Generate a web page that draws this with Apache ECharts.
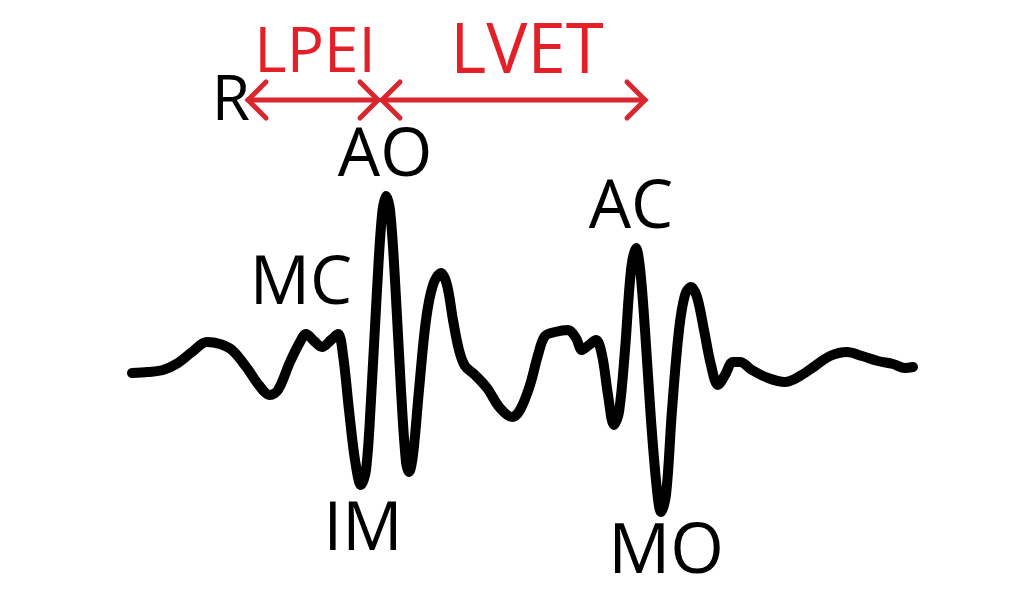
<!DOCTYPE html>
<html>
<head>
<meta charset="utf-8">
<style>html,body{margin:0;padding:0;background:#fff;}#c{width:1029px;height:605px;}</style>
<script src="https://cdn.jsdelivr.net/npm/echarts@6/dist/echarts.min.js"></script>
</head>
<body>
<div id="c"></div>
<script>
// time (arbitrary units) and amplitude of the traced waveform
const time = [132,148,163,178,192,207,220,232,247,258,270,278,290,300,306,314,322,331,338,343,349,355,361,366,371,377,382,386,390,395,401,406,409,413,419,426,433,441,447,453,459,465,475,487,500,512,520,530,538,545,555,568,576,582,589,596,602,608,614,619,625,631,636,640,645,651,657,661,666,672,679,685,691,697,704,711,718,725,733,740,752,768,785,800,815,830,847,862,878,893,905,913];
const amplitude = [-3,-2,0,7,18,28,26,20,2,-14,-25,-20,8,28,36,29,23,30,36,15,-40,-90,-115,-100,-30,80,155,174,160,90,-20,-92,-102,-85,-20,50,85,97,85,50,20,4,-5,-18,-38,-47,-40,-15,15,34,38,40,32,20,25,30,15,-25,-55,-42,20,100,122,102,40,-50,-120,-142,-125,-40,40,75,83,73,40,5,-15,-5,8,8,0,-8,-12,-6,4,14,18,14,9,6,2,3];

// black event labels: name, time, amplitude
const eventNames = ['R','MC','AO','IM','AC','MO'];
const eventTime  = [231,301,385,363,631,666];
const eventAmp   = [268,85,213,-161,161,-183];

// red interval labels and arrows
const intervalNames = ['LPEI','LVET'];
const intervalStart = [248,382];
const intervalEnd   = [378,645];
const intervalLabelTime = [315,527];
const intervalLabelAmp  = [316,317];
const arrowAmp = 270;
const headLen = 18;

const labelSize = {R:62, MC:67, AO:67, IM:67, AC:67, MO:69, LPEI:62, LVET:69};

const arrowPaths = [];
intervalNames.forEach((n,i)=>{
  const a = intervalStart[i], b = intervalEnd[i];
  arrowPaths.push({coords:[[a,arrowAmp],[b,arrowAmp]]});
  arrowPaths.push({coords:[[a+headLen,arrowAmp+headLen],[a,arrowAmp],[a+headLen,arrowAmp-headLen]]});
  arrowPaths.push({coords:[[b-headLen,arrowAmp+headLen],[b,arrowAmp],[b-headLen,arrowAmp-headLen]]});
});

const chart = echarts.init(document.getElementById('c'), null, {renderer:'canvas'});
chart.setOption({
  backgroundColor:'#ffffff',
  animation:false,
  grid:{left:0,right:0,top:0,bottom:0},
  xAxis:{type:'value',min:0,max:1029,show:false},
  yAxis:{type:'value',min:-235,max:370,show:false},
  series:[
    {
      type:'line',
      data: time.map((t,i)=>[t,amplitude[i]]),
      smooth:0.35,
      symbol:'none',
      lineStyle:{color:'#000',width:10,cap:'round',join:'round'},
      z:2
    },
    {
      type:'lines',
      coordinateSystem:'cartesian2d',
      polyline:true,
      data:arrowPaths,
      lineStyle:{color:'#d9262f',width:5,opacity:1,cap:'round',join:'miter'},
      z:3
    },
    {
      type:'scatter',
      symbolSize:0,
      itemStyle:{opacity:1},
      data: eventNames.map((n,i)=>({value:[eventTime[i],eventAmp[i]],name:n,label:{fontSize:labelSize[n]}})),
      label:{show:true,position:'inside',formatter:'{b}',color:'#000',opacity:1,
        fontFamily:'Open Sans',fontSize:67,align:'center',verticalAlign:'middle'},
      emphasis:{disabled:true},
      z:4
    },
    {
      type:'scatter',
      symbolSize:0,
      itemStyle:{opacity:1},
      data: intervalNames.map((n,i)=>({value:[intervalLabelTime[i],intervalLabelAmp[i]],name:n,label:{fontSize:labelSize[n]}})),
      label:{show:true,position:'inside',formatter:'{b}',color:'#e41f28',opacity:1,
        fontFamily:'Open Sans',fontSize:66,align:'center',verticalAlign:'middle'},
      emphasis:{disabled:true},
      z:4
    }
  ]
});
</script>
</body>
</html>
